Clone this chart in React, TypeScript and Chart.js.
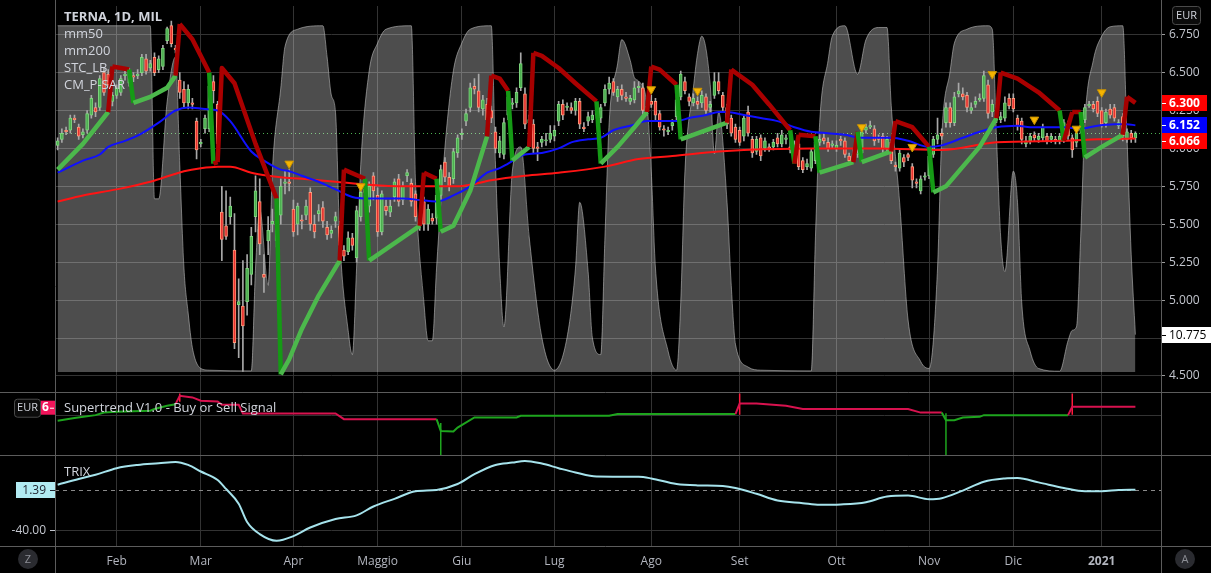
import React, { useEffect, useRef } from 'react';
import { Chart, registerables } from 'chart.js';

Chart.register(...registerables);

const W = 1211;
const H = 573;
const FONT = "'Open Sans', 'Noto Sans', sans-serif";

// ---------- axis / label data ----------
const monthLabels = ['Feb', 'Mar', 'Apr', 'Maggio', 'Giu', 'Lug', 'Ago', 'Set', 'Ott', 'Nov', 'Dic', '2021'];
const monthIdx = [14, 34, 56, 76, 96, 118, 141, 162, 185, 207, 227, 248];
const priceTicks = [4.5, 4.75, 5, 5.25, 5.5, 5.75, 6, 6.25, 6.5, 6.75];
const stGridTicks = [5.875];
const trixTicks = [-40];
const legendLines = ['TERNA, 1D, MIL', 'mm50', 'mm200', 'STC_LB', 'CM_P-SAR'];

// ---------- daily candles [open, high, low, close], index = trading day from 14 Jan 2020 ----------
const candles: number[][] = [
  [6.02,6.07,5.99,6.05],[6.06,6.13,6.04,6.10],[6.12,6.14,6.09,6.11],[6.12,6.22,6.10,6.20],[6.20,6.22,6.17,6.19],
  [6.14,6.16,6.06,6.08],[6.09,6.13,6.07,6.11],[6.12,6.25,6.10,6.23],[6.22,6.35,6.20,6.33],[6.27,6.30,6.21,6.24],
  [6.27,6.48,6.25,6.46],[6.50,6.53,6.35,6.37],[6.49,6.52,6.40,6.42],[6.31,6.37,6.28,6.35],[6.35,6.42,6.33,6.40],
  [6.37,6.48,6.35,6.46],[6.48,6.51,6.45,6.49],[6.43,6.53,6.41,6.51],[6.48,6.50,6.44,6.47],[6.48,6.52,6.46,6.49],
  [6.50,6.62,6.48,6.60],[6.59,6.62,6.49,6.51],[6.53,6.58,6.51,6.56],[6.60,6.63,6.48,6.50],[6.52,6.61,6.50,6.59],
  [6.54,6.68,6.52,6.66],[6.71,6.80,6.69,6.79],[6.81,6.84,6.67,6.69],[6.66,6.68,6.63,6.65],[6.45,6.50,6.33,6.37],
  [6.39,6.44,6.27,6.30],[6.30,6.42,6.26,6.39],[6.30,6.33,6.26,6.29],[6.18,6.20,5.93,5.99],[6.03,6.06,6.01,6.04],
  [6.13,6.22,6.10,6.20],[6.13,6.43,6.11,6.41],[6.44,6.48,6.30,6.38],[6.29,6.31,5.97,6.03],[5.58,5.75,5.26,5.40],
  [5.49,5.72,5.40,5.42],[5.55,5.68,5.50,5.62],[5.33,5.57,4.68,4.72],[4.97,5.14,4.62,4.99],[4.96,5.26,4.53,4.83],
  [4.99,5.30,4.90,5.21],[5.17,5.48,5.10,5.42],[5.55,5.82,5.45,5.72],[5.65,5.80,5.30,5.37],[5.17,5.30,5.05,5.15],
  [5.39,5.55,5.30,5.46],[5.50,5.60,5.45,5.52],[5.39,5.62,5.35,5.58],[5.56,5.80,5.50,5.75],[5.77,5.85,5.70,5.78],
  [5.78,5.86,5.72,5.77],[5.60,5.66,5.42,5.45],[5.50,5.64,5.43,5.62],[5.53,5.56,5.47,5.52],[5.56,5.66,5.53,5.62],
  [5.71,5.74,5.46,5.50],[5.50,5.56,5.41,5.45],[5.57,5.63,5.52,5.59],[5.61,5.65,5.48,5.52],[5.48,5.52,5.40,5.43],
  [5.44,5.49,5.41,5.46],[5.52,5.58,5.48,5.55],[5.49,5.52,5.33,5.36],[5.33,5.36,5.26,5.29],[5.32,5.45,5.30,5.41],
  [5.41,5.44,5.33,5.36],[5.28,5.62,5.25,5.59],[5.55,5.76,5.52,5.71],[5.73,5.76,5.69,5.71],[5.62,5.78,5.58,5.75],
  [5.82,5.84,5.66,5.72],[5.69,5.74,5.42,5.45],[5.45,5.72,5.43,5.70],[5.62,5.66,5.56,5.59],[5.58,5.66,5.55,5.62],
  [5.68,5.80,5.65,5.78],[5.80,5.83,5.62,5.65],[5.66,5.78,5.63,5.75],[5.82,5.86,5.78,5.84],[5.77,5.80,5.62,5.65],
  [5.70,5.72,5.52,5.55],[5.50,5.53,5.46,5.49],[5.65,5.68,5.46,5.50],[5.50,5.63,5.46,5.60],[5.54,5.57,5.50,5.52],
  [5.54,5.72,5.50,5.69],[5.69,5.89,5.66,5.86],[5.91,5.94,5.78,5.81],[5.81,5.84,5.72,5.75],[5.80,6.00,5.77,5.98],
  [5.97,6.09,5.94,6.07],[6.09,6.13,6.06,6.10],[6.18,6.26,6.15,6.23],[6.27,6.43,6.24,6.40],[6.41,6.46,6.36,6.39],
  [6.38,6.49,6.24,6.27],[6.26,6.35,6.22,6.32],[6.29,6.33,6.17,6.19],[6.25,6.28,6.17,6.20],[6.11,6.14,5.97,6.00],
  [5.97,6.08,5.94,6.05],[5.96,6.20,5.93,6.17],[6.22,6.37,6.19,6.34],[6.29,6.33,6.26,6.30],[6.30,6.40,6.27,6.37],
  [6.40,6.63,6.38,6.56],[6.36,6.40,6.13,6.16],[6.17,6.22,6.14,6.19],[6.16,6.19,5.97,6.00],[6.01,6.04,5.92,6.00],
  [6.04,6.08,6.01,6.06],[6.05,6.10,6.02,6.05],[6.06,6.15,6.04,6.10],[6.08,6.15,6.05,6.12],[6.18,6.31,6.15,6.29],
  [6.29,6.32,6.19,6.22],[6.27,6.30,6.25,6.28],[6.27,6.30,6.23,6.25],[6.25,6.33,6.22,6.31],[6.31,6.33,6.13,6.16],
  [6.14,6.17,6.11,6.13],[6.18,6.24,6.15,6.21],[6.19,6.25,6.17,6.22],[6.22,6.28,6.20,6.25],[6.20,6.29,6.17,6.27],
  [6.30,6.42,6.28,6.39],[6.39,6.47,6.36,6.43],[6.44,6.46,6.35,6.37],[6.34,6.41,6.31,6.39],[6.39,6.42,6.32,6.35],
  [6.34,6.37,6.31,6.33],[6.31,6.35,6.29,6.33],[6.32,6.44,6.30,6.40],[6.40,6.44,6.37,6.41],[6.40,6.43,6.22,6.25],
  [6.25,6.30,6.22,6.28],[6.31,6.35,6.27,6.29],[6.31,6.33,6.19,6.22],[6.23,6.25,6.12,6.14],[6.13,6.15,6.08,6.12],
  [6.11,6.14,6.09,6.12],[6.15,6.19,6.12,6.17],[6.21,6.35,6.19,6.32],[6.34,6.51,6.32,6.49],[6.44,6.47,6.36,6.38],
  [6.34,6.36,6.28,6.31],[6.30,6.36,6.28,6.33],[6.31,6.34,6.26,6.29],[6.30,6.38,6.27,6.35],[6.34,6.36,6.23,6.25],
  [6.27,6.31,6.24,6.29],[6.35,6.50,6.33,6.44],[6.44,6.50,6.36,6.38],[6.35,6.37,6.25,6.27],[6.27,6.29,6.13,6.16],
  [6.20,6.22,6.08,6.10],[6.14,6.16,6.04,6.06],[6.12,6.14,6.02,6.04],[6.08,6.22,6.05,6.20],[6.24,6.28,6.08,6.10],
  [6.06,6.08,5.94,5.97],[5.98,6.08,5.96,6.06],[6.07,6.09,5.92,5.95],[6.00,6.07,5.98,6.05],[6.01,6.03,5.98,6.00],
  [6.01,6.06,5.99,6.04],[6.07,6.10,6.01,6.03],[6.03,6.12,6.01,6.09],[6.06,6.09,6.03,6.07],[6.01,6.07,5.97,5.99],
  [5.96,6.05,5.94,6.03],[6.03,6.06,5.86,5.88],[5.92,5.94,5.84,5.86],[5.88,5.93,5.86,5.90],[5.87,6.00,5.85,5.98],
  [5.92,6.06,5.90,6.04],[6.04,6.09,6.02,6.06],[6.07,6.10,6.03,6.05],[6.04,6.07,5.98,6.00],[6.02,6.05,6.00,6.03],
  [6.00,6.05,5.98,6.02],[6.06,6.08,6.02,6.05],[6.05,6.07,5.94,5.96],[5.95,5.97,5.90,5.92],[5.94,6.00,5.92,5.96],
  [5.96,6.00,5.94,5.97],[5.97,6.12,5.95,6.11],[6.12,6.16,6.10,6.14],[6.14,6.18,6.13,6.15],[6.13,6.15,6.02,6.05],
  [6.07,6.09,6.04,6.06],[6.08,6.10,5.97,6.00],[6.00,6.08,5.98,6.06],[6.04,6.06,5.90,5.92],[5.89,5.91,5.85,5.88],
  [5.87,5.99,5.85,5.97],[5.94,5.96,5.88,5.91],[5.96,5.97,5.92,5.94],[5.88,5.90,5.74,5.79],[5.78,5.80,5.74,5.77],
  [5.72,5.82,5.70,5.80],[5.81,5.84,5.79,5.82],[5.82,5.97,5.80,5.95],[5.96,6.08,5.94,6.06],[6.06,6.20,6.03,6.09],
  [6.10,6.13,6.06,6.08],[6.17,6.30,6.14,6.27],[6.27,6.30,6.14,6.17],[6.17,6.37,6.15,6.34],[6.36,6.43,6.34,6.38],
  [6.36,6.40,6.32,6.34],[6.35,6.37,6.24,6.27],[6.25,6.30,6.23,6.27],[6.29,6.34,6.27,6.31],[6.32,6.36,6.31,6.33],
  [6.33,6.51,6.31,6.48],[6.42,6.45,6.20,6.23],[6.24,6.32,6.21,6.29],[6.23,6.26,6.17,6.20],[6.19,6.24,6.17,6.21],
  [6.20,6.34,6.18,6.30],[6.33,6.36,6.26,6.28],[6.33,6.36,6.24,6.26],[6.20,6.22,6.12,6.15],[6.18,6.20,6.03,6.06],
  [6.03,6.08,6.01,6.05],[6.05,6.10,6.03,6.08],[6.09,6.11,6.05,6.07],[6.06,6.10,6.04,6.08],[6.07,6.16,6.05,6.14],
  [6.08,6.10,6.03,6.05],[6.06,6.10,6.04,6.08],[6.06,6.08,6.03,6.05],[6.05,6.10,6.03,6.08],[6.06,6.19,6.04,6.17],
  [6.16,6.18,6.06,6.08],[6.07,6.09,5.94,5.99],[6.04,6.12,6.01,6.10],[6.12,6.17,6.10,6.15],[6.19,6.29,6.17,6.27],
  [6.28,6.31,6.27,6.29],[6.29,6.31,6.24,6.26],[6.31,6.34,6.21,6.23],[6.25,6.27,6.14,6.16],[6.17,6.26,6.14,6.24],
  [6.26,6.29,6.20,6.22],[6.27,6.29,6.18,6.20],[6.15,6.19,6.13,6.17],[6.21,6.23,6.05,6.08],[6.06,6.13,6.04,6.11],
  [6.10,6.12,6.04,6.07],[6.07,6.11,6.04,6.10],
];

// ---------- moving averages [dayIndex, value] ----------
const mm50: number[][] = [
  [0,5.84],[6,5.92],[10,5.96],[12,6.01],[16,6.05],[20,6.10],[24,6.17],[28,6.25],[31,6.27],[35,6.26],[38,6.25],
  [41,6.18],[46,5.98],[49,5.92],[53,5.86],[55,5.85],[58,5.82],[62,5.78],[66,5.73],[70,5.68],[74,5.67],[78,5.67],
  [82,5.67],[86,5.66],[90,5.65],[94,5.69],[98,5.75],[102,5.84],[105,5.87],[107,5.90],[111,5.96],[115,5.97],
  [119,6.00],[122,6.04],[126,6.06],[129,6.07],[132,6.12],[136,6.15],[140,6.18],[144,6.18],[147,6.18],[150,6.20],
  [154,6.22],[157,6.24],[159,6.24],[163,6.22],[167,6.20],[171,6.18],[175,6.14],[179,6.11],[183,6.10],[187,6.09],
  [191,6.07],[195,6.07],[198,6.07],[202,6.05],[207,6.01],[210,6.02],[215,6.07],[219,6.11],[223,6.14],[228,6.15],
  [231,6.14],[235,6.14],[239,6.14],[243,6.13],[247,6.15],[251,6.16],[254,6.16],[256,6.152],
];
const mm200: number[][] = [
  [0,5.65],[6,5.69],[14,5.73],[22,5.78],[30,5.85],[34,5.87],[38,5.88],[41,5.88],[46,5.84],[50,5.82],[53,5.81],
  [58,5.80],[66,5.78],[74,5.76],[82,5.75],[90,5.75],[95,5.75],[98,5.76],[103,5.79],[111,5.82],[119,5.84],
  [130,5.88],[138,5.93],[146,5.95],[157,5.98],[163,5.99],[179,6.00],[195,6.00],[210,5.99],[223,6.04],[239,6.05],
  [247,6.06],[256,6.066],
];

// ---------- STC_LB oscillator [dayIndex, value 0..100] ----------
const stc: number[][] = [
  [0,100],[22,100],[23,50],[24,50],[26,78],[28,91],[29,60],[30,30],[31,17],[32,7],[34,1],[36,0.5],[46,0.3],
  [47,30],[48,47],[50,25],[51,58],[53,82],[54,94],[57,99],[63,100],[64,91],[65,80],[66,75],[67,39],[69,12],
  [70,5],[71,30],[72,60],[74,87],[76,95],[78,99],[84,100],[85,55],[87,20],[88,9],[89,9],[90,30],[92,65],[94,87],
  [96,95],[98,99],[103,100],[104,60],[105,30],[106,13],[108,58],[110,65],[112,39],[115,10],[118,0.5],[121,10],
  [123,30],[124,49],[126,29],[127,10],[129,5],[130,39],[131,72],[133,89],[134,96],[136,90],[137,85],[138,84],
  [140,77],[141,58],[142,30],[145,6],[147,0.5],[148,20],[149,58],[151,82],[152,92],[153,97],[155,83],[156,63],
  [157,75],[159,49],[160,25],[161,8],[164,1.4],[167,0.5],[179,0.3],[180,39],[181,72],[183,90],[184,97],[187,100],
  [190,86],[192,96],[195,99.5],[197,99.5],[198,77],[200,49],[202,15],[205,3],[207,1],[209,30],[210,68],[212,87],
  [213,95],[216,99],[221,100],[222,99],[223,68],[224,39],[225,29],[227,58],[228,49],[229,20],[231,6],[233,1],
  [238,0.2],[240,9],[241,12],[242,13],[243,39],[244,72],[246,90],[248,97],[250,99.7],[253,100],[254,68],[255,34],
  [256,10.775],
];

// ---------- CM_P-SAR [dayIndex, value, side] ----------
const sar: [number, number, string][] = [
  [0,5.86,'G'],[6,6.03,'G'],[12,6.24,'G'],[13,6.54,'R'],[17,6.52,'R'],[18,6.30,'G'],[22,6.34,'G'],[26,6.40,'G'],
  [28,6.48,'G'],[29,6.82,'R'],[32,6.72,'R'],[36,6.50,'R'],[37,5.90,'G'],[38,5.91,'R'],[39,6.53,'R'],[42,6.43,'R'],
  [47,6.03,'R'],[52,5.67,'R'],[53,4.51,'G'],[55,4.61,'G'],[58,4.81,'G'],[62,5.03,'G'],[67,5.26,'G'],[68,5.86,'R'],
  [73,5.80,'R'],[74,5.26,'G'],[86,5.49,'G'],[87,5.84,'R'],[90,5.80,'R'],[91,5.45,'G'],[94,5.49,'G'],[98,5.72,'G'],
  [102,6.08,'G'],[103,6.48,'R'],[105,6.46,'R'],[107,6.38,'R'],[108,5.92,'G'],[112,6.01,'G'],[113,6.63,'R'],
  [115,6.61,'R'],[119,6.53,'R'],[123,6.43,'R'],[128,6.31,'R'],[129,5.90,'G'],[133,6.01,'G'],[137,6.14,'G'],
  [140,6.24,'G'],[141,6.54,'R'],[143,6.52,'R'],[147,6.42,'R'],[148,6.06,'G'],[159,6.17,'G'],[160,6.52,'R'],
  [165,6.42,'R'],[169,6.29,'R'],[174,6.12,'R'],[175,5.90,'G'],[176,6.09,'R'],[180,6.08,'R'],[181,5.84,'G'],
  [189,5.91,'G'],[190,6.11,'R'],[191,5.91,'G'],[198,5.98,'G'],[199,6.18,'R'],[203,6.14,'R'],[207,6.01,'R'],
  [208,5.71,'G'],[211,5.75,'G'],[215,5.88,'G'],[219,6.01,'G'],[223,6.20,'G'],[224,6.50,'R'],[228,6.46,'R'],
  [233,6.37,'R'],[238,6.25,'R'],[239,6.05,'G'],[241,6.24,'R'],[243,6.24,'R'],[244,5.94,'G'],[248,6.01,'G'],
  [253,6.09,'G'],[254,6.34,'R'],[256,6.30,'R'],
];

// ---------- sell markers ----------
const signalIdx = [55, 72, 141, 152, 191, 203, 222, 232, 242, 248];
const signalVal = [5.90, 5.75, 6.39, 6.38, 6.14, 6.01, 6.49, 6.19, 6.13, 6.37];

// ---------- Supertrend [dayIndex, value, side] ----------
const supertrend: [number, number, string][] = [
  [0,5.62,'G'],[4,5.75,'G'],[9,5.89,'G'],[11,6.01,'G'],[14,6.05,'G'],[22,6.10,'G'],[23,6.18,'G'],[26,6.33,'G'],
  [28,6.41,'G'],[29,6.81,'R'],[32,6.73,'R'],[34,6.57,'R'],[38,6.54,'R'],[39,6.38,'R'],[43,6.38,'R'],[44,5.97,'R'],
  [66,5.97,'R'],[68,5.70,'R'],[90,5.70,'R'],[91,5.14,'G'],[94,5.11,'G'],[95,5.30,'G'],[99,5.78,'G'],[109,5.78,'G'],
  [110,5.86,'G'],[131,5.86,'G'],[133,5.94,'G'],[161,5.94,'G'],[162,6.44,'R'],[166,6.44,'R'],[173,6.33,'R'],
  [177,6.18,'R'],[202,6.18,'R'],[205,6.01,'R'],[210,6.01,'R'],[211,5.65,'G'],[213,5.65,'G'],[215,5.78,'G'],
  [219,5.81,'G'],[220,5.89,'G'],[240,5.89,'G'],[241,6.29,'R'],[256,6.29,'R'],
];
// signal bars [dayIndex, from, to, side]
const stSignals: [number, number, number, string][] = [
  [29,6.92,6.53,'R'],[91,5.52,4.0,'G'],[162,6.92,5.91,'R'],[211,5.98,4.0,'G'],[241,6.92,5.91,'R'],
];

// ---------- TRIX [dayIndex, value] ----------
const trix: number[][] = [
  [0,6.4],[5,12.2],[9,16.5],[14,23.3],[19,26.6],[24,28.3],[28,29.7],[31,26.6],[34,19.9],[38,11.2],[40,2.1],
  [43,-13.0],[45,-31.6],[48,-44.0],[52,-50.8],[56,-46.1],[60,-37.3],[66,-28.6],[71,-24.9],[75,-15.8],[80,-8.0],
  [85,-0.3],[90,1.1],[95,7.1],[99,17.2],[104,26.6],[108,29.0],[111,30.7],[115,28.0],[119,23.3],[123,18.9],
  [128,14.8],[138,14.5],[141,12.8],[147,7.1],[152,5.7],[158,5.1],[161,3.1],[166,-2.9],[171,-9.7],[177,-12.4],
  [181,-14.1],[186,-13.7],[192,-11.4],[197,-5.7],[202,-4.7],[207,-8.4],[210,-7.4],[215,0.4],[220,9.5],[225,12.8],
  [228,13.2],[233,8.8],[239,3.1],[244,-0.3],[248,-0.3],[252,1.0],[256,1.39],
];

// ---------- styling ----------
const GRID = '#333333';
const SEP = '#5c5c5c';
const TXT = '#c3c6ce';
const CANDLE_UP = '#4caf50';
const CANDLE_UP_B = '#7fd67f';
const CANDLE_DN = '#e8312f';
const CANDLE_DN_B = '#ff9a7a';

const last = (a: any[]) => a[a.length - 1];

function roundRect(ctx: any, x: number, y: number, w: number, h: number, r: number) {
  ctx.beginPath();
  ctx.moveTo(x + r, y);
  ctx.lineTo(x + w - r, y);
  ctx.quadraticCurveTo(x + w, y, x + w, y + r);
  ctx.lineTo(x + w, y + h - r);
  ctx.quadraticCurveTo(x + w, y + h, x + w - r, y + h);
  ctx.lineTo(x + r, y + h);
  ctx.quadraticCurveTo(x, y + h, x, y + h - r);
  ctx.lineTo(x, y + r);
  ctx.quadraticCurveTo(x, y, x + r, y);
  ctx.closePath();
}

const overlayPlugin = {
  id: 'tvOverlay',
  beforeDraw(chart: any) {
    const { ctx } = chart;
    ctx.save();
    ctx.fillStyle = '#000';
    ctx.fillRect(0, 0, W, H);
    ctx.restore();
  },
  beforeDatasetsDraw(chart: any) {
    const { ctx, chartArea: a, scales } = chart;
    ctx.save();
    ctx.lineWidth = 1;
    // TRIX last-value dashed line
    const yT = Math.round(scales.yt.getPixelForValue(last(trix)[1])) + 0.5;
    ctx.strokeStyle = '#8a8a8a';
    ctx.setLineDash([4, 4]);
    ctx.beginPath(); ctx.moveTo(a.left, yT); ctx.lineTo(a.right, yT); ctx.stroke();
    // last close dotted line
    const yC = Math.round(scales.y.getPixelForValue(last(candles)[3])) + 0.5;
    ctx.strokeStyle = '#4caf50';
    ctx.setLineDash([1, 3]);
    ctx.beginPath(); ctx.moveTo(a.left, yC); ctx.lineTo(a.right, yC); ctx.stroke();
    ctx.restore();
  },
  afterDraw(chart: any) {
    const { ctx, chartArea: a, scales } = chart;
    const y = scales.y, ys = scales.ys, yt = scales.yt, ystc = scales.ystc;
    ctx.save();
    // pane separators & borders
    ctx.strokeStyle = SEP;
    ctx.lineWidth = 1;
    ctx.setLineDash([]);
    [y.bottom, ys.bottom, yt.bottom].forEach((v: number) => {
      const p = Math.round(v) + 0.5;
      ctx.beginPath(); ctx.moveTo(0, p); ctx.lineTo(W, p); ctx.stroke();
    });
    [a.left, a.right].forEach((v: number) => {
      const p = Math.round(v) + 0.5;
      ctx.beginPath(); ctx.moveTo(p, 0); ctx.lineTo(p, H); ctx.stroke();
    });

    // legends
    ctx.textBaseline = 'middle';
    ctx.textAlign = 'left';
    legendLines.forEach((t, k) => {
      ctx.font = (k === 0 ? 'bold ' : '') + '13px ' + FONT;
      ctx.fillStyle = '#d1d4dc';
      ctx.fillText(t, 64, 17 + k * 17);
    });
    ctx.font = '13px ' + FONT;
    ctx.fillText('Supertrend V1.0 - Buy or Sell Signal', 64, ys.top + 17);
    ctx.fillText('TRIX', 64, yt.top + 17);

    // right price tags
    const tags = [
      { v: last(sar)[1], bg: '#ff0000', fg: '#ffffff', bold: true },
      { v: last(mm50)[1], bg: '#0000ff', fg: '#ffffff', bold: true },
      { v: last(mm200)[1], bg: '#ff0000', fg: '#ffffff', bold: true },
    ];
    let prevBottom = -100;
    tags.forEach((t) => {
      let cy = y.getPixelForValue(t.v);
      let top = Math.round(cy - 8);
      if (top < prevBottom) top = prevBottom;
      prevBottom = top + 16;
      ctx.fillStyle = t.bg;
      ctx.fillRect(a.right + 1, top, 45, 16);
      ctx.fillStyle = t.fg;
      ctx.fillRect(a.right + 1, top + 8, 4, 1);
      ctx.font = (t.bold ? 'bold ' : '') + '12px ' + FONT;
      ctx.fillText(t.v.toFixed(3), a.right + 8, top + 8.5);
    });
    // STC tag
    const stcV = last(stc)[1];
    const sy = Math.round(ystc.getPixelForValue(stcV) - 8);
    ctx.fillStyle = '#ffffff';
    ctx.fillRect(a.right + 1, sy, W - a.right - 1, 16);
    ctx.fillStyle = '#000000';
    ctx.fillRect(a.right + 1, sy + 8, 4, 1);
    ctx.font = '12px ' + FONT;
    ctx.fillText(stcV.toFixed(3), a.right + 8, sy + 8.5);

    // EUR box top-right
    roundRect(ctx, 1172.5, 6.5, 28, 18, 3);
    ctx.fillStyle = '#0b0b0b'; ctx.fill();
    ctx.strokeStyle = '#4a4a4a'; ctx.stroke();
    ctx.fillStyle = '#d1d4dc';
    ctx.textAlign = 'center';
    ctx.font = '11px ' + FONT;
    ctx.fillText('EUR', 1186.5, 16);

    // Supertrend left labels
    const stMid = ys.top + 16;
    roundRect(ctx, 14.5, stMid - 8.5, 26, 18, 3);
    ctx.fillStyle = '#0b0b0b'; ctx.fill();
    ctx.strokeStyle = '#4a4a4a'; ctx.stroke();
    ctx.fillStyle = '#d1d4dc';
    ctx.fillText('EUR', 27.5, stMid + 0.5);
    ctx.fillStyle = '#f0145a';
    ctx.fillRect(41, stMid - 7, 14, 14);
    ctx.fillStyle = '#ffffff';
    ctx.textAlign = 'left';
    ctx.font = 'bold 12px ' + FONT;
    ctx.fillText(last(supertrend)[1].toFixed(3).slice(0, 1), 42, stMid);
    ctx.fillRect(50, stMid, 4, 1);

    // TRIX left labels
    const trixV = last(trix)[1];
    const ty = Math.round(yt.getPixelForValue(trixV));
    ctx.fillStyle = '#b2ebf2';
    ctx.fillRect(16, ty - 8, a.left - 16, 16);
    ctx.fillStyle = '#1e222d';
    ctx.textAlign = 'right';
    ctx.font = '12px ' + FONT;
    ctx.fillText(trixV.toFixed(2), 46, ty + 0.5);
    ctx.fillRect(50, ty, 5, 1);
    trixTicks.forEach((tv) => {
      const py = Math.round(yt.getPixelForValue(tv));
      ctx.fillStyle = TXT;
      ctx.fillText(tv.toFixed(2), 46, py + 0.5);
      ctx.fillRect(50, py, 5, 1);
    });

    // Z / A buttons
    ctx.textAlign = 'center';
    [[28, 'Z'], [1185, 'A']].forEach(([cx, t]: any) => {
      ctx.beginPath();
      ctx.arc(cx, 559, 10, 0, Math.PI * 2);
      ctx.fillStyle = '#2a2b30';
      ctx.fill();
      ctx.fillStyle = '#8d8f96';
      ctx.font = '11px ' + FONT;
      ctx.fillText(t, cx, 559.5);
    });
    ctx.restore();
  },
};

export default function App() {
  const ref = useRef<HTMLCanvasElement | null>(null);

  useEffect(() => {
    const canvas = ref.current;
    if (!canvas) return;

    const sarColor = (ctx: any) => {
      const a = sar[ctx.p0DataIndex][2];
      const b = sar[ctx.p1DataIndex][2];
      if (a !== b) return b === 'G' ? '#159a15' : '#a50000';
      return b === 'G' ? '#4cb84c' : '#aa0000';
    };
    const stColor = (ctx: any) => (supertrend[ctx.p1DataIndex][2] === 'G' ? '#1ea51e' : '#d8124f');

    const sigData: any[] = [];
    stSignals.forEach(([i, a, b]) => {
      sigData.push({ x: i, y: a }, { x: i, y: b }, { x: i, y: null });
    });

    const fitRight = (s: any) => {
      s.width = W - 1161;
      s.paddingTop = 0;
      s.paddingBottom = 0;
    };

    const chart = new Chart(canvas, {
      type: 'line',
      data: {
        datasets: [
          {
            type: 'line',
            label: 'STC_LB',
            yAxisID: 'ystc',
            data: stc.map(([x, v]) => ({ x, y: v })),
            fill: 'origin',
            backgroundColor: 'rgba(255,255,255,0.3)',
            borderColor: 'rgba(200,200,200,0.55)',
            borderWidth: 1,
            pointRadius: 0,
            cubicInterpolationMode: 'monotone',
            order: 10,
          },
          {
            type: 'bar',
            label: 'wicks',
            yAxisID: 'y',
            data: candles.map((c, i) => ({ x: i, y: [c[2], c[1]] })),
            backgroundColor: '#a8a8a8',
            barThickness: 1,
            grouped: false,
            order: 9,
          },
          {
            type: 'bar',
            label: 'TERNA',
            yAxisID: 'y',
            data: candles.map((c, i) => ({ x: i, y: [c[0], c[3]] })),
            backgroundColor: candles.map((c) => (c[3] >= c[0] ? CANDLE_UP : CANDLE_DN)),
            borderColor: candles.map((c) => (c[3] >= c[0] ? CANDLE_UP_B : CANDLE_DN_B)),
            borderWidth: 1,
            borderSkipped: false,
            barThickness: 3,
            minBarLength: 1,
            grouped: false,
            order: 8,
          },
          {
            type: 'line',
            label: 'mm200',
            yAxisID: 'y',
            data: mm200.map(([x, v]) => ({ x, y: v })),
            borderColor: '#ff1414',
            borderWidth: 2,
            pointRadius: 0,
            cubicInterpolationMode: 'monotone',
            order: 7,
          },
          {
            type: 'line',
            label: 'mm50',
            yAxisID: 'y',
            data: mm50.map(([x, v]) => ({ x, y: v })),
            borderColor: '#1010ff',
            borderWidth: 2,
            pointRadius: 0,
            cubicInterpolationMode: 'monotone',
            order: 6,
          },
          {
            type: 'line',
            label: 'CM_P-SAR',
            yAxisID: 'y',
            data: sar.map(([x, v]) => ({ x, y: v })),
            borderWidth: 4.5,
            borderColor: '#aa0000',
            segment: { borderColor: sarColor },
            borderJoinStyle: 'round',
            pointRadius: 0,
            tension: 0,
            order: 5,
          },
          {
            type: 'line',
            label: 'signals',
            yAxisID: 'y',
            data: signalIdx.map((x, k) => ({ x, y: signalVal[k] })),
            showLine: false,
            pointStyle: 'triangle',
            rotation: 180,
            pointRadius: 5,
            pointBackgroundColor: '#f5b400',
            pointBorderColor: '#c99200',
            pointBorderWidth: 1,
            order: 1,
          },
          {
            type: 'line',
            label: 'Supertrend',
            yAxisID: 'ys',
            data: supertrend.map(([x, v]) => ({ x, y: v })),
            borderWidth: 2,
            borderColor: '#1ea51e',
            segment: { borderColor: stColor },
            pointRadius: 0,
            tension: 0,
            order: 4,
          },
          {
            type: 'line',
            label: 'Supertrend signals',
            yAxisID: 'ys',
            data: sigData,
            borderWidth: 1.5,
            borderColor: '#1ea51e',
            segment: {
              borderColor: (ctx: any) => (stSignals[Math.floor(ctx.p0DataIndex / 3)][3] === 'G' ? '#1ea51e' : '#ff1a3c'),
            },
            spanGaps: false,
            pointRadius: 0,
            order: 4,
          },
          {
            type: 'line',
            label: 'TRIX',
            yAxisID: 'yt',
            data: trix.map(([x, v]) => ({ x, y: v })),
            borderColor: '#a6e3ec',
            borderWidth: 2,
            pointRadius: 0,
            cubicInterpolationMode: 'monotone',
            order: 3,
          },
        ],
      },
      options: {
        responsive: false,
        devicePixelRatio: 1,
        animation: false,
        events: [],
        layout: { padding: { left: 55, right: 0, top: 0, bottom: 0 } },
        plugins: { legend: { display: false }, tooltip: { enabled: false } },
        scales: {
          x: {
            type: 'linear',
            position: 'bottom',
            min: -0.632,
            max: 262.08,
            offset: false,
            afterBuildTicks: (s: any) => {
              s.ticks = monthIdx.map((v) => ({ value: v }));
            },
            afterFit: (s: any) => {
              s.height = 27;
              s.paddingLeft = 0;
              s.paddingRight = 0;
            },
            ticks: {
              autoSkip: false,
              maxRotation: 0,
              padding: 8,
              color: '#b2b5be',
              font: (c: any) => ({
                family: FONT,
                size: 12,
                weight: c.tick && c.tick.value === monthIdx[monthIdx.length - 1] ? 'bold' : 'normal',
              }),
              callback: (v: any) => {
                const k = monthIdx.indexOf(Number(v));
                return k >= 0 ? monthLabels[k] : '';
              },
            },
            grid: { color: GRID, drawTicks: false, offset: false },
            border: { display: false },
          },
          y: {
            type: 'linear',
            position: 'right',
            stack: 'panes',
            stackWeight: 390,
            min: 4.396,
            max: 6.939,
            afterBuildTicks: (s: any) => {
              s.ticks = priceTicks.map((v) => ({ value: v }));
            },
            afterFit: fitRight,
            ticks: {
              color: TXT,
              padding: 4,
              font: { family: FONT, size: 12 },
              callback: (v: any) => Number(v).toFixed(3),
            },
            grid: { color: GRID, tickColor: '#9a9a9a', tickLength: 4 },
            border: { color: SEP },
          },
          ys: {
            type: 'linear',
            position: 'right',
            stack: 'panes',
            stackWeight: 64,
            min: 4.0,
            max: 7.0,
            afterBuildTicks: (s: any) => {
              s.ticks = stGridTicks.map((v) => ({ value: v }));
            },
            afterFit: fitRight,
            ticks: { display: false },
            grid: { color: GRID, drawTicks: false },
            border: { color: SEP },
          },
          yt: {
            type: 'linear',
            position: 'right',
            stack: 'panes',
            stackWeight: 92,
            min: -56.15,
            max: 36.72,
            afterBuildTicks: (s: any) => {
              s.ticks = trixTicks.map((v) => ({ value: v }));
            },
            afterFit: fitRight,
            ticks: { display: false },
            grid: { color: GRID, drawTicks: false },
            border: { color: SEP },
          },
          ystc: {
            type: 'linear',
            display: false,
            min: -50.29,
            max: 105.71,
          },
        },
      } as any,
      plugins: [overlayPlugin],
    } as any);

    return () => chart.destroy();
  }, []);

  return (
    <div style={{ position: 'fixed', left: 0, top: 0, width: W, height: H, background: '#000' }}>
      <canvas ref={ref} width={W} height={H} style={{ display: 'block', width: W, height: H }} />
    </div>
  );
}
